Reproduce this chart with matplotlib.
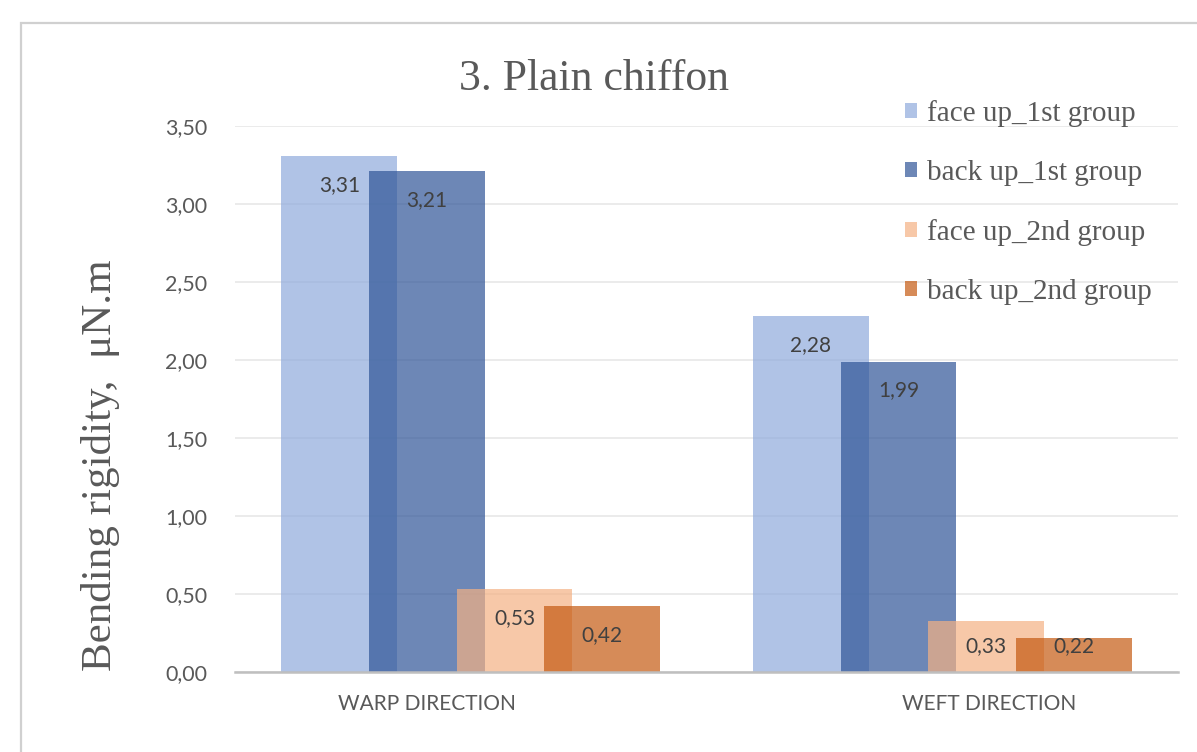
import matplotlib
matplotlib.use("Agg")
import matplotlib.pyplot as plt
from matplotlib.patches import Rectangle
import numpy as np

# Data
categories = ["WARP DIRECTION", "WEFT DIRECTION"]
series_names = ["face up_1st group", "back up_1st group",
                "face up_2nd group", "back up_2nd group"]
face_up_1st = [3.31, 2.28]
back_up_1st = [3.21, 1.99]
face_up_2nd = [0.53, 0.33]
back_up_2nd = [0.42, 0.22]
yticks = [0.0, 0.5, 1.0, 1.5, 2.0, 2.5, 3.0, 3.5]

series_values = [face_up_1st, back_up_1st, face_up_2nd, back_up_2nd]
colors = ["#8FAADC", "#2F5597", "#F4B183", "#C55A11"]

TEXT_GREY = "#595959"
SERIF = "Liberation Serif"
SANS = "Lato"

W, H = 1197, 752
DPI = 100
fig = plt.figure(figsize=(W / DPI, H / DPI), dpi=DPI)

# Outer chart frame (runs past the right and bottom edges)
fig.patches.append(Rectangle((21 / W, -0.05), 1.2, 1 - 23 / H + 0.05,
                             transform=fig.transFigure, fill=False,
                             edgecolor="#D0D0D0", linewidth=1.6))

ax = fig.add_axes([235 / W, (H - 672) / H, (1178 - 235) / W, (672 - 126) / H])

x = np.arange(len(categories))
bar_w = 0.246
step = 0.1856
offsets = (np.arange(4) - 1.5) * step

for i, (name, vals, col) in enumerate(zip(series_names, series_values, colors)):
    ax.bar(x + offsets[i], vals, width=bar_w, color=col, alpha=0.7,
           label=name, zorder=2 + i, linewidth=0)

ax.set_xlim(-0.5, 1.5)
ax.set_ylim(0, 3.5)

# Value labels sit just inside the bar top; short bars push them down less
px_per_unit = ax.get_position().height * H / 3.5
for i, vals in enumerate(series_values):
    for j, v in enumerate(vals):
        bar_px = v * px_per_unit
        drop_px = min(29, bar_px - 26)
        ax.annotate(f"{v:.2f}".replace(".", ","), xy=(x[j] + offsets[i], v),
                    xytext=(0, -drop_px * 72 / DPI), textcoords="offset points",
                    ha="center", va="center", fontsize=15, family=SANS,
                    color="#404040", zorder=10)

ax.set_yticks(yticks)
ax.set_yticklabels([f"{t:.2f}".replace(".", ",") for t in yticks],
                   family=SANS, fontsize=15.5, color=TEXT_GREY)
ax.set_xticks([-0.093, 1.099])
ax.set_xticklabels(categories, family=SANS, fontsize=15, color=TEXT_GREY)
ax.tick_params(axis="y", length=0, pad=20)
ax.tick_params(axis="x", length=0, pad=16)

ax.grid(axis="y", color="#E6E6E6", linewidth=1.1, zorder=0)
ax.set_axisbelow(True)
for s in ["top", "right", "left"]:
    ax.spines[s].set_visible(False)
ax.spines["bottom"].set_color("#BFBFBF")
ax.spines["bottom"].set_linewidth(1.8)
ax.spines["bottom"].set_zorder(8)

fig.text(594 / W, 1 - 79 / H, "3. Plain chiffon", family=SERIF, fontsize=31.5,
         color=TEXT_GREY, ha="center", va="center")

fig.text(101 / W, 1 - 465 / H, "Bending rigidity,  μN.m", family=SERIF,
         fontsize=31, color=TEXT_GREY, rotation=90, ha="center", va="center")

leg = ax.legend(loc="upper left", bbox_to_anchor=(905 / W, 1 - 100 / H),
                bbox_transform=fig.transFigure, frameon=False,
                prop={"family": SERIF, "size": 21}, labelcolor=TEXT_GREY,
                handlelength=0.42, handleheight=0.42, handletextpad=0.32,
                labelspacing=1.13, borderpad=0, borderaxespad=0)
for h in leg.legend_handles:
    h.set_alpha(0.7)

fig.savefig("out.png", dpi=DPI)
